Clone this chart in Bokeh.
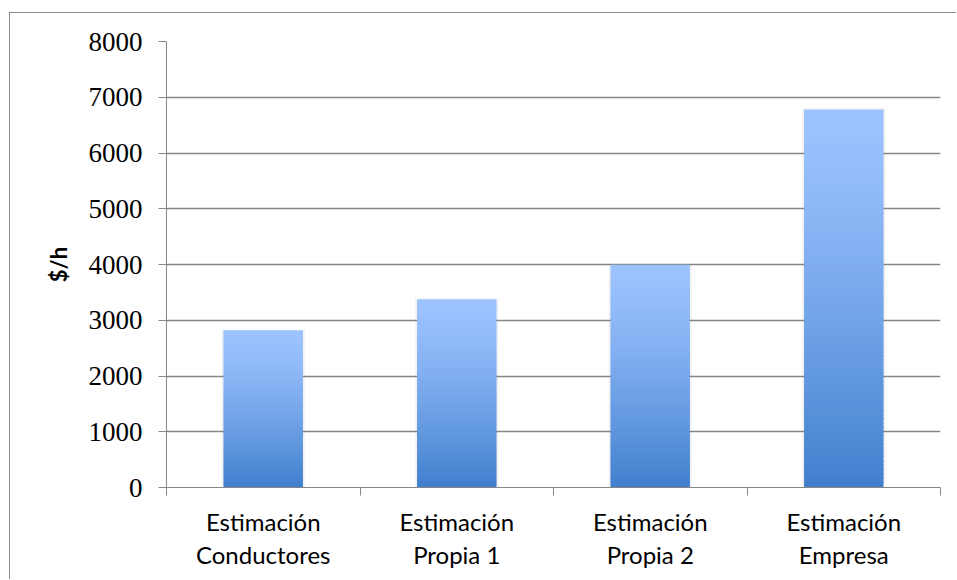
import numpy as np
from bokeh.plotting import figure
from bokeh.models import (Range1d, LinearAxis, FixedTicker, ColumnDataSource, Grid)
from bokeh.embed import file_html
from bokeh.resources import INLINE

# ---- data ----
categories = ["Estimación\nConductores", "Estimación\nPropia 1",
              "Estimación\nPropia 2", "Estimación\nEmpresa"]
values = [2820, 3375, 3995, 6780]
y_ticks = [0, 1000, 2000, 3000, 4000, 5000, 6000, 7000, 8000]
y_label = "$/h"

# ---- styling ----
top_rgb = np.array([0x9D, 0xC3, 0xFF])
bot_rgb = np.array([0x40, 0x7F, 0xCD])
grid_col = "#868686"
N = 90
bar_w = 0.41

centers = [i + 0.5 for i in range(len(categories))]
bounds = [float(i) for i in range(len(categories) + 1)]

# gradient strips derived from values
xs, bots, tops, cols = [], [], [], []
for cx, v in zip(centers, values):
    for k in range(N):
        b = v * k / N
        t = min(v, v * (k + 1.6) / N)
        frac_from_top = 1 - (k + 0.5) / N
        f = frac_from_top ** 1.3
        c = top_rgb + (bot_rgb - top_rgb) * f
        xs.append(cx); bots.append(b); tops.append(t)
        cols.append("#%02x%02x%02x" % tuple(int(round(x)) for x in c))
src = ColumnDataSource(dict(x=xs, bottom=bots, top=tops, color=cols))
shadow = ColumnDataSource(dict(x=centers, top=[v * 1.004 for v in values]))

p = figure(x_range=Range1d(0, len(categories)), y_range=Range1d(0, 8000),
           width=947, height=567, output_backend="svg", toolbar_location=None,
           x_axis_type=None, y_axis_type=None,
           min_border_left=156, min_border_right=17, min_border_top=28,
           min_border_bottom=93)
p.outline_line_color = None
p.background_fill_color = "white"
p.border_fill_color = "white"
p.styles = {"margin-left": "9px", "margin-top": "12px",
            "border-left": "1px solid #8c8c8c", "border-top": "1px solid #8c8c8c"}

# y axis
yax = LinearAxis(ticker=FixedTicker(ticks=y_ticks))
yax.axis_line_color = grid_col
yax.major_tick_line_color = grid_col
yax.major_tick_out = 8
yax.major_tick_in = 0
yax.minor_tick_line_color = None
yax.major_label_text_font = "Liberation Serif"
yax.major_label_text_font_size = "27px"
yax.major_label_text_color = "black"
yax.major_label_standoff = 16
yax.axis_label = y_label
yax.axis_label_text_font = "Lato"
yax.axis_label_text_font_size = "22px"
yax.axis_label_text_font_style = "bold"
yax.axis_label_text_color = "black"
yax.axis_label_standoff = 14
p.add_layout(yax, "left")

# x axis: labels at category centres, tick marks at category boundaries
xax = LinearAxis(ticker=FixedTicker(ticks=centers, minor_ticks=bounds))
xax.major_label_overrides = {c: lab for c, lab in zip(centers, categories)}
xax.axis_line_color = grid_col
xax.major_tick_line_color = None
xax.major_tick_out = 0
xax.major_tick_in = 0
xax.minor_tick_line_color = grid_col
xax.minor_tick_out = 8
xax.minor_tick_in = 0
xax.major_label_text_font = "Lato"
xax.major_label_text_font_size = "24px"
xax.major_label_text_color = "black"
xax.major_label_text_line_height = 1.15
xax.major_label_standoff = 11
p.add_layout(xax, "below")

g = Grid(dimension=1, ticker=FixedTicker(ticks=y_ticks),
         grid_line_color=grid_col, grid_line_width=1.3)
p.add_layout(g)

# shadow + bars
p.vbar(x="x", top="top", bottom=0, width=bar_w + 0.02, source=shadow,
       fill_color="black", fill_alpha=0.05, line_color=None)
p.vbar(x="x", top="top", bottom="bottom", width=bar_w, source=src,
       fill_color="color", line_color=None)

open("out.html", "w").write(file_html(p, INLINE))
